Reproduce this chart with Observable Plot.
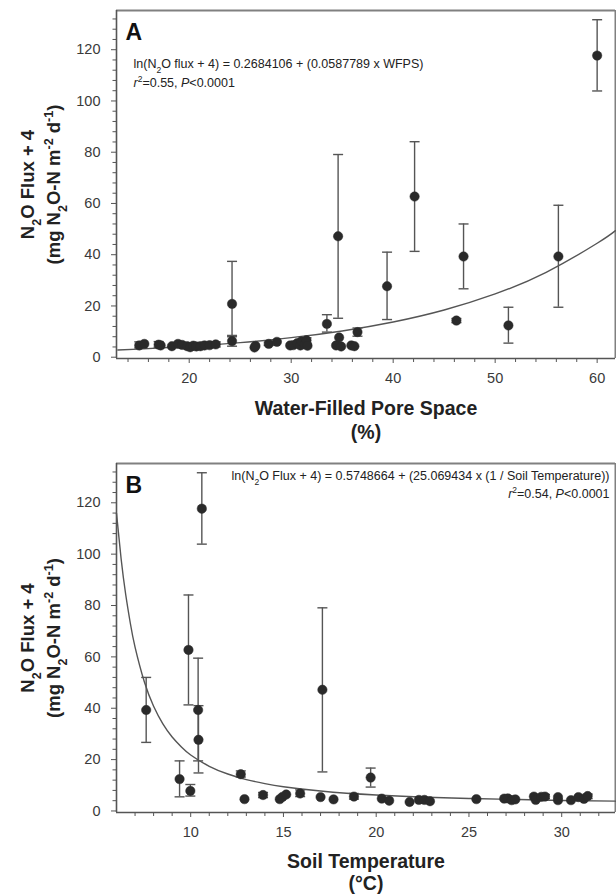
<!DOCTYPE html>
<html><head><meta charset="utf-8">
<script src="https://cdn.jsdelivr.net/npm/d3@7"></script>
<script src="https://cdn.jsdelivr.net/npm/@observablehq/plot@0.6"></script>
<style>
html,body{margin:0;padding:0;background:#fff;}
#chart{width:616px;}
#chart svg{display:block;}
</style></head><body><div id="chart"></div>
<script>
// ---------- Panel A : Water-filled pore space ----------
const wfps  = [15.1,15.6,17.0,17.2,18.3,18.9,19.3,19.8,20.1,20.4,20.7,21.1,21.5,22.0,22.6,24.2,24.2,26.4,26.5,27.8,28.6,29.9,30.2,30.6,30.9,31.0,31.3,31.5,31.6,33.5,34.4,34.7,34.9,34.6,35.9,36.2,36.5,39.4,42.1,46.2,46.9,51.3,56.2,60.0];
const fluxA = [4.6,5.2,4.9,4.6,4.3,5.2,4.8,4.3,3.9,4.5,4.2,4.3,4.6,4.7,5.0,6.3,20.8,3.8,4.4,5.2,6.0,4.6,4.7,5.5,4.6,6.2,5.0,6.6,4.5,13.0,4.6,7.7,4.2,47.2,4.6,4.3,9.8,27.7,62.7,14.3,39.3,12.4,39.3,117.7];
const lowA  = [3.6,null,3.9,null,null,null,null,null,null,null,null,null,null,null,4.0,4.3,8.5,null,null,4.6,null,null,null,null,null,null,null,5.4,null,9.8,null,null,null,15.2,null,null,8.2,14.7,41.3,13.5,26.7,5.5,19.5,103.9];
const highA = [6.0,null,6.1,null,null,null,null,null,null,null,null,null,null,null,6.0,8.0,37.4,null,null,5.9,null,null,null,null,null,null,null,7.6,null,16.6,null,null,null,79.1,null,null,11.4,41.0,84.1,15.1,52.0,19.5,59.3,131.7];
const curveA_x = [13,15,20,25,30,35,40,45,50,55,60,61.8];
const curveA_y = [2.81,3.16,4.24,5.69,7.63,10.24,13.74,18.42,24.71,33.15,44.47,49.4];

// ---------- Panel B : Soil temperature ----------
const tempB = [7.6,9.4,9.88,9.98,10.4,10.42,10.6,12.7,12.9,13.9,14.8,14.95,15.15,15.9,17.0,17.1,17.7,18.8,19.7,20.3,20.7,21.8,22.3,22.6,22.9,25.4,26.9,27.1,27.3,27.5,28.5,28.6,28.9,29.1,29.8,29.8,30.5,30.9,31.2,31.4];
const fluxB = [39.3,12.4,62.7,7.8,39.3,27.7,117.7,14.3,4.6,6.2,4.6,5.5,6.4,6.8,5.4,47.2,4.5,5.6,13.0,4.8,4.0,3.5,4.3,4.3,3.8,4.6,4.8,4.9,4.2,4.5,5.6,4.3,5.5,5.6,4.2,5.4,4.2,5.4,4.7,5.8];
const lowB  = [26.7,5.5,41.3,5.8,19.5,14.8,103.9,13.2,null,5.2,null,null,null,5.6,null,15.2,null,4.6,9.3,null,null,null,null,null,null,null,null,null,null,null,null,null,null,4.8,null,null,null,null,null,4.8];
const highB = [52.0,19.5,84.1,10.3,59.5,41.0,131.7,15.6,null,7.2,null,null,null,8.2,null,79.1,null,6.8,16.7,null,null,null,null,null,null,null,null,null,null,null,null,null,null,6.4,null,null,null,null,null,6.6];
const curveB_x = [6,6.25,6.5,6.75,7,7.5,8,8.5,9,9.5,10,11,12,13,14,15,17,20,25,30,32.9];
const curveB_y = [115.9,98.1,84.1,72.9,63.8,50.3,40.8,33.9,28.8,24.9,21.8,17.4,14.4,12.2,10.65,9.45,7.77,6.22,4.85,4.10,3.81];

// ---------- Ticks ----------
const yTicks = [0,20,40,60,80,100,120];
const yMinorTicks = [4,8,12,16,24,28,32,36,44,48,52,56,64,68,72,76,84,88,92,96,104,108,112,116,124,128,132];
const xTicksA = [20,30,40,50,60];
const xMinorTicksA = [14,16,18,22,24,26,28,32,34,36,38,42,44,46,48,52,54,56,58];
const xTicksB = [10,15,20,25,30];
const xMinorTicksB = [7,8,9,11,12,13,14,16,17,18,19,21,22,23,24,26,27,28,29,31,32];

// ---------- Texts ----------
const panelA = "A", panelB = "B";
const eqA = ["ln(N₂O flux + 4) = 0.2684106 + (0.0587789 x WFPS)", "r²=0.55, P<0.0001"];
const eqB = ["ln(N₂O Flux + 4) = 0.5748664 + (25.069434 x (1 / Soil Temperature))", "r²=0.54, P<0.0001"];
const yTitle = ["N₂O Flux + 4", "(mg N₂O-N m⁻² d⁻¹)"];
const xTitleA = ["Water-Filled Pore Space", "(%)"];
const xTitleB = ["Soil Temperature", "(°C)"];

const rowsA = wfps.map((x, i) => ({x, y: fluxA[i], lo: lowA[i], hi: highA[i]}));
const rowsB = tempB.map((x, i) => ({x, y: fluxB[i], lo: lowB[i], hi: highB[i]}));
const lineA = curveA_x.map((x, i) => ({x, y: curveA_y[i]}));
const lineB = curveB_x.map((x, i) => ({x, y: curveB_y[i]}));

const capSymbol = {draw(ctx, size) { const w = Math.sqrt(size / Math.PI); ctx.moveTo(-w, 0); ctx.lineTo(w, 0); }};
const INK = "#2a2a2a", BAR = "#555", AXIS = "#555", FRAME = "#808080";
const FONT = "'Liberation Sans', Arial, Helvetica, sans-serif";

function panel({rows, line, xDomain, yDomain, xTicks, xMinor, height, marginTop, marginBottom, label, eq, eqRight, xTitle, titleDy}) {
  const withErr = rows.filter(d => d.lo != null);
  const eqOpts = eqRight
    ? {frameAnchor: "top-right", textAnchor: "end", dx: -6}
    : {frameAnchor: "top-left", textAnchor: "start", dx: 17};
  const eqDy = eqRight ? [16, 34] : [57, 76];
  return Plot.plot({
    width: 616, height,
    marginTop, marginBottom, marginLeft: 116, marginRight: 1,
    x: {domain: xDomain},
    y: {domain: yDomain},
    style: {fontFamily: FONT, fontSize: "14px", color: "#333", background: "#fff", overflow: "visible"},
    marks: [
      Plot.ruleY([yDomain[1]], {stroke: FRAME, strokeWidth: 2}),
      Plot.ruleX([xDomain[1]], {stroke: FRAME, strokeWidth: 2}),
      Plot.axisY(yMinorTicks, {tickSize: 3.5, tickFormat: () => "", label: null, stroke: AXIS}),
      Plot.axisY(yTicks, {tickSize: 5, tickPadding: 11, fontSize: 14.5, label: null, stroke: AXIS, fill: "#3a3a3a"}),
      Plot.axisX(xMinor, {tickSize: 4, tickFormat: () => "", label: null, stroke: AXIS}),
      Plot.axisX(xTicks, {tickSize: 5, tickPadding: 9, fontSize: 14.5, label: null, stroke: AXIS, fill: "#3a3a3a"}),
      Plot.ruleX([xDomain[0]], {stroke: AXIS, strokeWidth: 1.6}),
      Plot.ruleY([yDomain[0]], {stroke: AXIS, strokeWidth: 1.6}),
      Plot.line(line, {x: "x", y: "y", curve: "natural", stroke: "#555", strokeWidth: 1.4}),
      Plot.ruleX(withErr, {x: "x", y1: "lo", y2: "hi", stroke: BAR, strokeWidth: 1.4}),
      Plot.dot(withErr, {x: "x", y: "lo", symbol: capSymbol, r: 5, fill: "none", stroke: BAR, strokeWidth: 1.4}),
      Plot.dot(withErr, {x: "x", y: "hi", symbol: capSymbol, r: 5, fill: "none", stroke: BAR, strokeWidth: 1.4}),
      Plot.dot(rows, {x: "x", y: "y", r: 4.7, fill: INK, stroke: INK, strokeWidth: 0.5}),
      Plot.text([label], {text: d => d, frameAnchor: "top-left", textAnchor: "start", lineAnchor: "bottom", dx: 9, dy: 29, fontSize: 23, fontWeight: "bold", fill: "#111"}),
      Plot.text([eq[0]], {text: d => d, ...eqOpts, lineAnchor: "bottom", dy: eqDy[0], fontSize: 12.5, fill: "#222"}),
      Plot.text([eq[1]], {text: d => d, ...eqOpts, lineAnchor: "bottom", dy: eqDy[1], fontSize: 12.5, fill: "#222"}),
      Plot.text([yTitle[0]], {text: d => d, frameAnchor: "left", rotate: -90, textAnchor: "middle", lineAnchor: "bottom", dx: -83, fontSize: 18.5, fontWeight: "bold", fill: "#222"}),
      Plot.text([yTitle[1]], {text: d => d, frameAnchor: "left", rotate: -90, textAnchor: "middle", lineAnchor: "bottom", dx: -57, fontSize: 18.5, fontWeight: "bold", fill: "#222"}),
      Plot.text([xTitle[0]], {text: d => d, frameAnchor: "bottom", lineAnchor: "bottom", dy: titleDy[0], fontSize: 19.5, fontWeight: "bold", fill: "#222"}),
      Plot.text([xTitle[1]], {text: d => d, frameAnchor: "bottom", lineAnchor: "bottom", dy: titleDy[1], fontSize: 19.5, fontWeight: "bold", fill: "#222"})
    ]
  });
}

const SUB = {"₂": "2"};
const SUP = {"⁻": "-", "²": "2", "¹": "1"};
function segs(s) {
  const out = [];
  for (let i = 0; i < s.length; i++) {
    const c = s[i];
    let kind = "n", ch = c;
    if (SUB[c]) { kind = "sub"; ch = SUB[c]; }
    else if (SUP[c]) { kind = "sup"; ch = SUP[c]; }
    else if ((c === "r" && i === 0) || (c === "P" && s[i + 1] === "<")) kind = "it";
    if (out.length && out[out.length - 1].kind === kind) out[out.length - 1].t += ch;
    else out.push({kind, t: ch});
  }
  return out;
}
function rich(svg) {
  svg.querySelectorAll("text").forEach(t => {
    const s = t.textContent;
    if (!/[₂⁻²¹]/.test(s) && !/P</.test(s)) return;
    while (t.firstChild) t.removeChild(t.firstChild);
    for (const g of segs(s)) {
      const ts = document.createElementNS("http://www.w3.org/2000/svg", "tspan");
      ts.textContent = g.t;
      if (g.kind === "sub") { ts.setAttribute("font-size", "68%"); ts.setAttribute("baseline-shift", "sub"); }
      if (g.kind === "sup") { ts.setAttribute("font-size", "68%"); ts.setAttribute("baseline-shift", "super"); }
      if (g.kind === "it") ts.setAttribute("font-style", "italic");
      t.appendChild(ts);
    }
  });
}

const A = panel({rows: rowsA, line: lineA, xDomain: [12.87, 61.8], yDomain: [-0.5, 135.3], xTicks: xTicksA, xMinor: xMinorTicksA,
  height: 450, marginTop: 10, marginBottom: 92, label: panelA, eq: eqA, eqRight: false, xTitle: xTitleA, titleDy: [56.5, 80.5]});
const B = panel({rows: rowsB, line: lineB, xDomain: [6.0, 32.9], yDomain: [-0.6, 135.3], xTicks: xTicksB, xMinor: xMinorTicksB,
  height: 445, marginTop: 13, marginBottom: 83, label: panelB, eq: eqB, eqRight: true, xTitle: xTitleB, titleDy: [55, 77]});
rich(A); rich(B);
document.getElementById("chart").append(A, B);
</script></body></html>
